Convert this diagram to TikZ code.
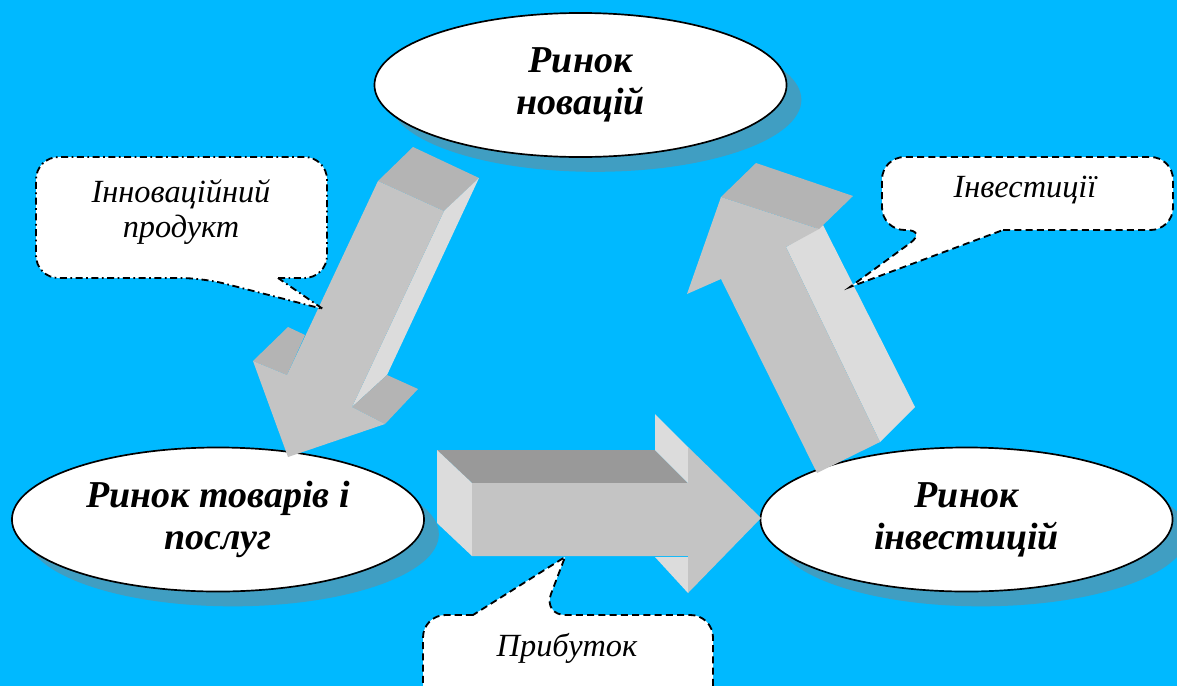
\documentclass[tikz,border=0pt]{standalone}
\usepackage{fontspec}
\setmainfont{Liberation Serif}
\usepackage{tikz}
\usetikzlibrary{shapes.geometric, shadows, positioning}
\usepackage{xcolor}

\definecolor{bgblue}{HTML}{00B9FF}
\definecolor{shadowblue}{HTML}{409EC2}
\definecolor{faceA}{HTML}{C4C4C4}
\definecolor{faceB}{HTML}{B4B4B4}
\definecolor{faceC}{HTML}{DCDCDC}
\definecolor{faceD}{HTML}{999999}

\begin{document}
\begin{tikzpicture}[x=0.025cm, y=-0.025cm]
                \tikzstyle{market} = [shape=ellipse, fill=white, draw=black, line width=1.2pt, minimum width=10.3cm, minimum height=3.6cm, inner sep=0pt, align=center, font=\fontsize{27}{30}\selectfont\bfseries\itshape, drop shadow={shadow xshift=0.37cm, shadow yshift=-0.37cm, fill=shadowblue, opacity=1}];
                \tikzstyle{bubble} = [fill=white, draw=black, line width=1.3pt];
                \tikzstyle{note} = [align=center, font=\fontsize{23}{25}\selectfont\itshape];

                \useasboundingbox (0,0) rectangle (1177,686);
                \clip (0,0) rectangle (1177,686);
                \fill[bgblue] (0,0) rectangle (1177,686);

                % markets
                \node[market](nov) at (580.5,85) {Ринок\\новацій};
                \node[market](goods) at (218,519.5) {Ринок товарів і\\послуг};
                \node[market](invest) at (966.5,519.5) {Ринок\\інвестицій};

                % arrow: novations -> goods
                \fill[faceB] (378,181) -- (413,147) -- (479,178) -- (444,211) -- cycle;
                \fill[faceC] (444,211) -- (479,178) -- (387,375) -- (352,407) -- cycle;
                \fill[faceB] (352,407) -- (387,375) -- (418,389) -- (385,424) -- cycle;
                \fill[faceB] (253,361) -- (288,327) -- (305,335) -- (287,375) -- cycle;
                \fill[faceA] (378,181) -- (287,375) -- (253,361) -- (288,457) -- (385,424) -- (352,407) -- (444,211) -- cycle;

                % arrow: investments -> novations
                \fill[faceC] (786,247) -- (823,225) -- (915,407) -- (880,442) -- cycle;
                \fill[faceB] (721,197) -- (756,163) -- (853,196) -- (819,229) -- cycle;
                \fill[faceA] (721,197) -- (687,294) -- (721,279) -- (817,473) -- (880,442) -- (786,247) -- (819,229) -- cycle;

                % arrow: goods -> investments
                \fill[faceD] (437,450) -- (655,450) -- (688,483) -- (472,483) -- cycle;
                \fill[faceC] (437,450) -- (472,483) -- (472,556) -- (437,523) -- cycle;
                \fill[faceC] (655,414) -- (688,447) -- (688,483) -- (655,450) -- cycle;
                \fill[faceC] (655,557) -- (688,557) -- (688,593) -- cycle;
                \fill[faceA] (472,483) -- (688,483) -- (688,447) -- (761,518) -- (688,593) -- (688,556) -- (472,556) -- cycle;

                % callouts
                \draw[bubble, dash pattern=on 5pt off 2.5pt on 1.2pt off 2.5pt]
                    (278,278) [rounded corners=16] -- (327,278) -- (327,157) -- (36,157) -- (36,278) -- (203,278)
                    [sharp corners] -- (323,309) -- cycle;
                \node[note](innolbl) at (181,212) {Інноваційний\\продукт};

                \draw[bubble, dash pattern=on 5pt off 3pt]
                    (1003,230) [rounded corners=16] -- (1173,230) -- (1173,157) -- (882,157) -- (882,230) -- (928,230)
                    [sharp corners] -- (850,287) -- cycle;
                \node[note](investlbl) at (1025,190) {Інвестиції};

                \draw[bubble, dash pattern=on 5pt off 3pt]
                    (473,615) [rounded corners=16] -- (423,615) -- (423,720) -- (713,720) -- (713,615) -- (543,615)
                    [sharp corners] -- (565,557) -- cycle;
                \node[note](profitlbl) at (567,648) {Прибуток};
            \end{tikzpicture}
\end{document}
